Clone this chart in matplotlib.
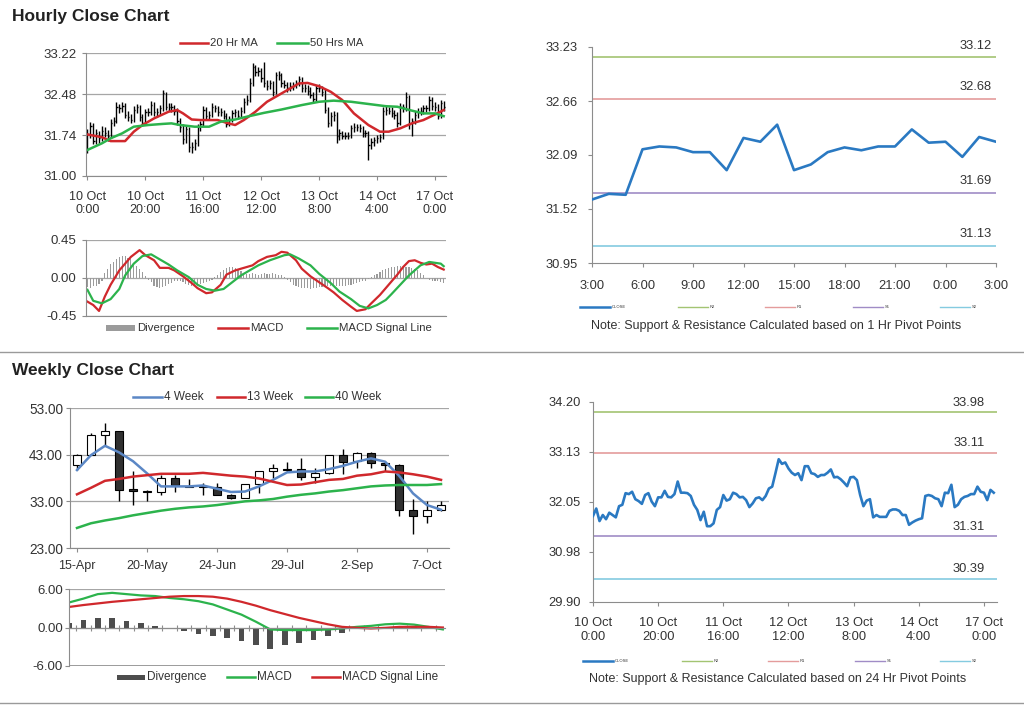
import numpy as np
import matplotlib
matplotlib.use('Agg')
import matplotlib.pyplot as plt
from matplotlib.lines import Line2D
from matplotlib.patches import Rectangle

plt.rcParams['font.family'] = ['Liberation Sans', 'DejaVu Sans']

# ---- hourly bars, 10 Oct 0:00 onwards (124 hours)
hourly_close = [31.75, 31.91, 31.64, 31.77, 31.68, 31.82, 31.77, 31.72, 31.96, 31.99,
                32.24, 32.22, 32.27, 32.11, 32.07, 32.01, 32.20, 32.24, 32.06, 31.96,
                32.15, 32.15, 32.29, 32.16, 32.15, 32.22, 32.49, 32.25, 32.25, 32.24,
                32.18, 31.99, 31.88, 31.66, 31.84, 31.53, 31.53, 31.59, 31.88, 31.94,
                32.20, 32.08, 32.11, 32.25, 32.22, 32.15, 32.16, 32.09, 31.94, 32.02,
                32.13, 32.15, 32.09, 32.18, 32.34, 32.38, 32.67, 32.97, 32.87, 32.90,
                32.77, 32.68, 32.63, 32.67, 32.52, 32.82, 32.82, 32.67, 32.65, 32.59,
                32.63, 32.63, 32.68, 32.75, 32.58, 32.59, 32.54, 32.47, 32.39, 32.58,
                32.59, 32.52, 32.20, 31.96, 32.08, 32.11, 31.72, 31.77, 31.73, 31.73,
                31.73, 31.86, 31.89, 31.89, 31.86, 31.77, 31.77, 31.56, 31.61, 31.65,
                31.68, 31.70, 32.18, 32.20, 32.18, 32.13, 32.11, 31.96, 32.25, 32.24,
                32.42, 31.94, 31.99, 32.11, 32.16, 32.18, 32.22, 32.22, 32.38, 32.27,
                32.25, 32.09, 32.31, 32.25]
hourly_high = [31.85, 31.98, 31.96, 31.84, 31.82, 31.90, 31.88, 31.83, 32.03, 32.06,
               32.33, 32.30, 32.34, 32.31, 32.18, 32.12, 32.27, 32.30, 32.29, 32.12,
               32.21, 32.23, 32.36, 32.33, 32.22, 32.29, 32.56, 32.52, 32.32, 32.31,
               32.28, 32.23, 32.05, 31.93, 31.90, 31.88, 31.62, 31.66, 31.94, 32.00,
               32.27, 32.24, 32.18, 32.31, 32.29, 32.27, 32.22, 32.20, 32.13, 32.08,
               32.19, 32.21, 32.19, 32.25, 32.41, 32.46, 32.76, 33.04, 33.01, 32.96,
               32.95, 33.06, 32.74, 32.73, 32.72, 32.88, 32.89, 32.86, 32.74, 32.70,
               32.69, 32.70, 32.74, 32.81, 32.79, 32.66, 32.64, 32.60, 32.52, 32.64,
               32.66, 32.63, 32.57, 32.25, 32.15, 32.17, 32.15, 31.84, 31.82, 31.80,
               31.79, 31.92, 31.95, 31.94, 31.93, 31.90, 31.83, 31.81, 31.68, 31.71,
               31.74, 31.76, 32.25, 32.27, 32.25, 32.24, 32.19, 32.16, 32.31, 32.30,
               32.52, 32.46, 32.05, 32.18, 32.22, 32.25, 32.28, 32.29, 32.44, 32.42,
               32.33, 32.30, 32.38, 32.36]
hourly_low = [31.42, 31.68, 31.58, 31.58, 31.60, 31.63, 31.70, 31.64, 31.68, 31.90,
              31.95, 32.14, 32.16, 32.04, 31.99, 31.95, 31.97, 32.13, 31.99, 31.90,
              31.92, 32.08, 32.10, 32.09, 32.07, 32.10, 32.18, 32.19, 32.17, 32.16,
              32.10, 31.92, 31.80, 31.58, 31.60, 31.44, 31.42, 31.47, 31.55, 31.82,
              31.90, 32.01, 32.02, 32.06, 32.15, 32.08, 32.09, 32.02, 31.88, 31.90,
              31.98, 32.07, 32.02, 32.04, 32.13, 32.28, 32.33, 32.62, 32.80, 32.81,
              32.70, 32.60, 32.55, 32.57, 32.45, 32.48, 32.74, 32.60, 32.58, 32.52,
              32.54, 32.56, 32.58, 32.63, 32.51, 32.52, 32.47, 32.40, 32.32, 32.35,
              32.51, 32.45, 32.13, 31.88, 31.90, 32.00, 31.60, 31.65, 31.66, 31.67,
              31.66, 31.69, 31.80, 31.82, 31.79, 31.70, 31.70, 31.28, 31.49, 31.55,
              31.59, 31.62, 31.66, 32.11, 32.12, 32.06, 32.03, 31.88, 31.92, 32.16,
              32.18, 31.85, 31.72, 31.93, 32.05, 32.10, 32.12, 32.15, 32.17, 32.20,
              32.18, 32.02, 32.05, 32.18]

ma20_hours = [0, 5, 8, 13, 16, 19, 23, 28, 31, 33, 36, 39, 45, 48, 51, 54, 58,
              62, 68, 73, 76, 80, 84, 88, 92, 97, 101, 104, 108, 112, 116, 120, 123]
ma20 = [31.75, 31.70, 31.63, 31.63, 31.80, 31.92, 32.04, 32.16, 32.19, 32.13, 32.02,
        32.01, 32.01, 31.96, 31.92, 32.01, 32.16, 32.34, 32.52, 32.67, 32.68, 32.62,
        32.52, 32.37, 32.13, 31.92, 31.80, 31.80, 31.86, 31.95, 32.01, 32.11, 32.19]
ma50_hours = [0, 5, 8, 12, 16, 21, 26, 29, 32, 37, 42, 46, 51, 55, 61, 67, 74, 80,
              85, 91, 97, 103, 107, 112, 116, 120, 123]
ma50 = [31.47, 31.59, 31.68, 31.77, 31.89, 31.92, 31.94, 31.95, 31.92, 31.89, 31.89,
        31.98, 32.02, 32.07, 32.14, 32.20, 32.28, 32.34, 32.36, 32.34, 32.30, 32.26,
        32.25, 32.18, 32.13, 32.13, 32.08]

macd_hours = [0, 2, 4, 6, 8, 11, 13, 15, 18, 20, 23, 25, 28, 30, 33, 36, 38, 41, 43,
              46, 48, 51, 54, 57, 59, 62, 65, 67, 69, 72, 74, 77, 80, 83, 85, 88, 91,
              93, 96, 98, 101, 104, 107, 109, 111, 113, 115, 117, 119, 121, 123]
macd_hourly = [-0.28, -0.32, -0.39, -0.22, -0.08, 0.09, 0.17, 0.25, 0.33, 0.27, 0.21,
               0.12, 0.12, 0.09, 0.02, -0.06, -0.12, -0.18, -0.17, -0.08, 0.04, 0.09,
               0.12, 0.15, 0.20, 0.25, 0.27, 0.31, 0.30, 0.21, 0.11, 0.02, -0.05, -0.12,
               -0.17, -0.26, -0.34, -0.39, -0.37, -0.30, -0.20, -0.08, 0.04, 0.13, 0.20,
               0.21, 0.18, 0.16, 0.17, 0.13, 0.10]
signal_hours = [0, 2, 5, 8, 11, 13, 16, 19, 22, 24, 28, 31, 35, 38, 41, 44, 47, 50, 53,
                56, 59, 63, 68, 70, 73, 77, 80, 84, 87, 91, 94, 97, 100, 103, 105, 108,
                111, 115, 118, 120, 122, 123]
signal_hourly = [-0.14, -0.27, -0.30, -0.25, -0.13, 0.03, 0.17, 0.26, 0.28, 0.24, 0.16,
                 0.09, 0.01, -0.08, -0.13, -0.15, -0.13, -0.05, 0.03, 0.09, 0.15, 0.21,
                 0.27, 0.28, 0.23, 0.15, 0.05, -0.06, -0.16, -0.25, -0.33, -0.36, -0.32,
                 -0.26, -0.19, -0.08, 0.03, 0.15, 0.19, 0.18, 0.17, 0.14]
div_hourly = [-0.11, -0.12, -0.10, -0.09, -0.07, -0.03, 0.06, 0.11, 0.16, 0.19,
              0.23, 0.25, 0.26, 0.26, 0.24, 0.22, 0.17, 0.14, 0.11, 0.07,
              0.02, -0.02, -0.05, -0.09, -0.11, -0.12, -0.11, -0.09, -0.07, -0.06,
              -0.04, -0.03, -0.04, -0.05, -0.07, -0.08, -0.09, -0.09, -0.08, -0.07,
              -0.06, -0.05, -0.03, -0.02, 0.01, 0.04, 0.07, 0.10, 0.12, 0.13,
              0.13, 0.12, 0.10, 0.08, 0.06, 0.05, 0.05, 0.06, 0.05, 0.04,
              0.05, 0.06, 0.05, 0.05, 0.06, 0.05, 0.04, 0.03, 0.01, -0.02,
              -0.05, -0.08, -0.10, -0.11, -0.12, -0.12, -0.12, -0.13, -0.12, -0.12,
              -0.11, -0.11, -0.10, -0.10, -0.09, -0.09, -0.10, -0.09, -0.09, -0.09,
              -0.08, -0.08, -0.07, -0.06, -0.05, -0.04, -0.03, -0.01, 0.01, 0.03,
              0.05, 0.07, 0.09, 0.11, 0.12, 0.13, 0.13, 0.14, 0.14, 0.14,
              0.13, 0.13, 0.12, 0.11, 0.09, 0.06, 0.03, 0.00, -0.02, -0.03,
              -0.03, -0.04, -0.05, -0.06]
hour_labels = ['10 Oct\n0:00', '10 Oct\n20:00', '11 Oct\n16:00', '12 Oct\n12:00',
               '13 Oct\n8:00', '14 Oct\n4:00', '17 Oct\n0:00']

# ---- 1 hr pivot chart (3:00 -> 3:00)
pivot1_close = [31.62, 31.68, 31.67, 32.15, 32.18, 32.17, 32.12, 32.12, 31.93, 32.27,
                32.23, 32.41, 31.93, 31.99, 32.12, 32.17, 32.14, 32.18, 32.18, 32.36,
                32.22, 32.23, 32.07, 32.28, 32.23]
pivot1_labels = ['3:00', '6:00', '9:00', '12:00', '15:00', '18:00', '21:00', '0:00', '3:00']
pivot1_levels = [33.12, 32.68, 31.69, 31.13]
pivot1_yticks = [30.95, 31.52, 32.09, 32.66, 33.23]

# ---- 24 hr pivot chart
pivot24_levels = [33.98, 33.11, 31.31, 30.39]
pivot24_yticks = [29.90, 30.98, 32.05, 33.13, 34.20]
level_names = ['R2', 'R1', 'S1', 'S2']

# ---- weekly candles, 15-Apr onwards
week_labels = ['15-Apr', '20-May', '24-Jun', '29-Jul', '2-Sep', '7-Oct']
w_open = [40.8, 43.0, 47.2, 48.0, 35.6, 35.3, 35.1, 38.1, 36.2, 36.2, 36.0, 34.4, 33.8,
          36.7, 39.4, 40.0, 39.9, 38.3, 39.0, 42.9, 41.6, 43.3, 41.3, 40.8, 31.2, 29.8, 31.2]
w_close = [43.0, 47.2, 48.0, 35.4, 35.3, 35.1, 38.1, 36.5, 36.1, 36.0, 34.4, 33.8, 36.7,
           39.4, 40.1, 39.8, 38.3, 39.0, 42.9, 41.5, 43.3, 41.3, 40.8, 31.2, 29.8, 31.2, 32.2]
w_high = [43.1, 47.7, 49.8, 48.0, 39.5, 35.4, 38.6, 38.6, 37.8, 37.0, 36.9, 34.6, 36.8,
          39.5, 41.1, 41.5, 42.3, 40.2, 43.0, 44.2, 43.5, 43.5, 41.6, 40.9, 33.5, 33.0, 33.0]
w_low = [39.8, 42.9, 45.0, 33.0, 32.2, 33.0, 34.4, 35.1, 36.0, 34.4, 34.3, 33.6, 33.7,
         34.7, 38.1, 39.3, 37.6, 36.9, 38.9, 38.8, 40.2, 40.2, 39.4, 29.8, 25.9, 28.3, 31.0]
wk4 = [39.7, 42.9, 44.9, 43.5, 41.6, 39.0, 36.2, 36.2, 36.2, 36.4, 35.7, 35.0, 35.1,
       36.2, 37.6, 39.2, 39.4, 39.4, 39.9, 40.6, 41.5, 42.2, 41.5, 38.5, 34.7, 32.2, 31.2]
wk13 = [34.5, 35.9, 37.4, 37.8, 38.3, 38.6, 38.9, 38.9, 38.9, 39.1, 38.8, 38.5, 38.3,
        37.9, 37.2, 36.5, 36.6, 37.1, 37.6, 37.8, 38.5, 38.8, 39.4, 39.2, 38.8, 38.3, 37.6]
wk40 = [27.3, 28.3, 28.9, 29.4, 30.0, 30.5, 31.0, 31.4, 31.7, 31.9, 32.2, 32.6, 33.0,
        33.2, 33.5, 34.0, 34.4, 34.7, 35.1, 35.4, 35.8, 36.2, 36.4, 36.5, 36.5, 36.5, 36.7]
w_div = [0.73, 1.15, 1.5, 1.5, 1.0, 0.7, 0.2, -0.15, -0.55, -0.95, -1.3, -1.7, -2.15,
         -2.75, -3.3, -2.75, -2.4, -2.0, -1.3, -0.8, -0.15, 0.0, 0.1, 0.2, 0.1, -0.05, -0.15]
w_macd = [3.9, 4.5, 5.2, 5.4, 5.2, 5.0, 4.9, 4.6, 4.4, 4.1, 3.6, 2.8, 2.0, 0.9, -0.3,
          -0.4, -0.4, -0.4, -0.3, -0.15, 0.1, 0.25, 0.5, 0.6, 0.45, 0.1, -0.3]
w_signal = [3.2, 3.5, 3.75, 4.0, 4.2, 4.4, 4.6, 4.8, 4.9, 4.9, 4.8, 4.5, 4.0, 3.4, 2.7,
            2.1, 1.5, 1.0, 0.5, 0.1, -0.05, -0.15, -0.05, 0.1, 0.1, 0.1, 0.0]

RED = '#d0282c'
GREEN = '#2cb34c'
BLUE = '#2a79c2'
WBLUE = '#5b87c5'
LEVEL_COLORS = ['#a3c472', '#e49c9c', '#a08cc6', '#84cbe0']
TXT = '#333333'
AXC = '#8c8c8c'
GRID = '#a6a6a6'

W, H = 1024, 706
fig = plt.figure(figsize=(W / 100, H / 100), dpi=100)


def add_ax(l, t, r, b):
    return fig.add_axes([l / W, 1 - b / H, (r - l) / W, (b - t) / H])


def style(ax, ypad, xpad=5, grid=True, size=9):
    ax.spines['top'].set_visible(False)
    ax.spines['right'].set_visible(False)
    ax.spines['left'].set_color(AXC)
    ax.spines['bottom'].set_color(AXC)
    ax.tick_params(colors=AXC, labelcolor=TXT, labelsize=size, length=3, width=0.8)
    ax.tick_params(axis='y', pad=ypad)
    ax.tick_params(axis='x', pad=xpad)
    if grid:
        ax.yaxis.grid(True, color=GRID, lw=0.9)
        ax.set_axisbelow(True)


def key_line(x0, y, text, color, lw=1.8, size=8.2, length=30):
    fig.add_artist(Line2D([x0 / W, (x0 + length) / W], [1 - y / H] * 2, color=color, lw=lw))
    fig.text((x0 + length + 2) / W, 1 - y / H, text, fontsize=size, color=TXT,
             va='center', ha='left')


def key_box(x0, y, text, color, size=8.2, length=30, h=6):
    fig.add_artist(Rectangle((x0 / W, 1 - (y + h / 2) / H), length / W, h / H,
                             color=color, lw=0))
    fig.text((x0 + length + 2) / W, 1 - y / H, text, fontsize=size, color=TXT,
             va='center', ha='left')


def level_lines(ax, levels, dx, dy):
    for lv, c in zip(levels, LEVEL_COLORS):
        ax.axhline(lv, color=c, lw=1.2)
        ax.annotate('%.2f' % lv, xy=(1, lv), xycoords=('axes fraction', 'data'),
                    xytext=(dx, dy), textcoords='offset points', ha='right',
                    va='center', fontsize=9.3, color=TXT)


# titles and separators
fig.text(12 / W, 1 - 16.5 / H, 'Hourly Close Chart', fontsize=12.5, fontweight='bold',
         va='center', color='#222222')
fig.text(12 / W, 1 - 370 / H, 'Weekly Close Chart', fontsize=12.5, fontweight='bold',
         va='center', color='#222222')
fig.add_artist(Line2D([0, 1], [1 - 352 / H] * 2, color='#9a9a9a', lw=1))
fig.add_artist(Line2D([0, 1], [1 - 703 / H] * 2, color='#9a9a9a', lw=1))

hrs = np.arange(len(hourly_close))

# hourly bars + moving averages
ax1 = add_ax(86, 53, 446, 176)
ax1.vlines(hrs, hourly_low, hourly_high, color='black', lw=1.0)
ax1.hlines(hourly_close, hrs, hrs + 0.45, color='black', lw=1.0)
ax1.plot(ma20_hours, ma20, color=RED, lw=1.8)
ax1.plot(ma50_hours, ma50, color=GREEN, lw=1.8)
ax1.set_xlim(-0.5, 123.8)
ax1.set_ylim(31.00, 33.22)
ax1.set_yticks([31.00, 31.74, 32.48, 33.22])
ax1.set_yticklabels(['31.00', '31.74', '32.48', '33.22'])
ax1.set_xticks(range(0, 121, 20))
ax1.set_xticklabels(hour_labels, linespacing=1.2)
style(ax1, ypad=4, xpad=7.5)
ax1.tick_params(axis='y', labelsize=9.5)
key_line(180, 43, '20 Hr MA', RED, length=28)
key_line(277, 43, '50 Hrs MA', GREEN, length=31)

# hourly MACD
ax2 = add_ax(86, 240, 446, 316)
ax2.bar(hrs, div_hourly, width=0.4, color='#9b9b9b')
ax2.plot(macd_hours, macd_hourly, color=RED, lw=1.6)
ax2.plot(signal_hours, signal_hourly, color=GREEN, lw=1.6)
ax2.set_xlim(-0.5, 123.8)
ax2.set_ylim(-0.45, 0.45)
ax2.set_yticks([-0.45, 0, 0.45])
ax2.set_yticklabels(['-0.45', '0.00', '0.45'])
ax2.set_xticks([])
style(ax2, ypad=4, size=9.5)
key_box(106, 328, 'Divergence', '#9b9b9b', length=29)
key_line(218, 328, 'MACD', RED)
key_line(307, 328, 'MACD Signal Line', GREEN)

# 1 hr pivot
ax3 = add_ax(592, 47, 996, 263)
ax3.plot(range(len(pivot1_close)), pivot1_close, color=BLUE, lw=1.9, zorder=3)
level_lines(ax3, pivot1_levels, -3, 8.5)
ax3.set_xlim(0, 24)
ax3.set_ylim(30.95, 33.23)
ax3.set_yticks(pivot1_yticks)
ax3.set_yticklabels(['%.2f' % v for v in pivot1_yticks])
ax3.set_xticks(range(0, 25, 3))
ax3.set_xticklabels(pivot1_labels)
style(ax3, ypad=7, xpad=9, grid=False, size=9.3)
for x0, name, c, lw in zip([580, 678, 765, 853, 940], ['CLOSE'] + level_names,
                           [BLUE] + LEVEL_COLORS, [1.8, 1, 1, 1, 1]):
    key_line(x0, 307, name, c, lw=lw, size=3, length=30)
fig.text(776 / W, 1 - 326 / H, 'Note: Support & Resistance Calculated based on 1 Hr Pivot Points',
         ha='center', va='center', fontsize=9, color=TXT)

# weekly candles
ax4 = add_ax(70, 408, 449, 548)
wx = np.arange(len(w_close))
ax4.vlines(wx, w_low, w_high, color='black', lw=1, zorder=2)
body_col = ['white' if c >= o else '#303030' for o, c in zip(w_open, w_close)]
ax4.bar(wx, np.array(w_close) - np.array(w_open), bottom=w_open, width=0.55,
        color=body_col, edgecolor='black', lw=0.8, zorder=3)
ax4.plot(wx, wk4, color=WBLUE, lw=1.8, zorder=4)
ax4.plot(wx, wk13, color=RED, lw=1.8, zorder=4)
ax4.plot(wx, wk40, color=GREEN, lw=1.8, zorder=4)
ax4.set_xlim(-0.5, 26.57)
ax4.set_ylim(23, 53)
ax4.set_yticks([23, 33, 43, 53])
ax4.set_yticklabels(['23.00', '33.00', '43.00', '53.00'])
ax4.set_xticks(range(0, 26, 5))
ax4.set_xticklabels(week_labels)
style(ax4, ypad=2, xpad=5.5)
ax4.tick_params(axis='y', labelsize=9.8)
key_line(133, 397, '4 Week', WBLUE, length=29, size=8.5)
key_line(217, 397, '13 Week', RED, length=28, size=8.5)
key_line(305, 397, '40 Week', GREEN, length=28, size=8.5)

# weekly MACD: category axis sits on the zero line, frame line at the bottom
ax5 = add_ax(69, 589, 445, 666)
ax5.bar(wx, w_div, width=0.4, color='#4d4d4d')
ax5.plot(wx, w_macd, color=GREEN, lw=1.6)
ax5.plot(wx, w_signal, color=RED, lw=1.6)
ax5.set_xlim(0, 26.15)
ax5.set_ylim(-6, 6)
ax5.set_yticks([-6, 0, 6])
ax5.set_yticklabels(['-6.00', '0.00', '6.00'])
style(ax5, ypad=1.5, size=9.5)
ax5.spines['bottom'].set_position(('data', 0))
ax5.set_xticks(wx[:-1] + 0.5)
ax5.set_xticklabels([])
ax5.tick_params(axis='x', direction='inout', length=4)
ax5.axhline(-6, color=AXC, lw=1.2)
key_box(117, 677, 'Divergence', '#4d4d4d', length=28, h=5, size=8.5)
key_line(227, 677, 'MACD', GREEN, length=28, size=8.5)
key_line(312, 677, 'MACD Signal Line', RED, length=28, size=8.5)

# 24 hr pivot
ax6 = add_ax(593, 402, 997, 602)
ax6.plot(hrs, hourly_close, color=BLUE, lw=1.9, zorder=3)
level_lines(ax6, pivot24_levels, -9, 7)
ax6.set_xlim(0, 124)
ax6.set_ylim(29.90, 34.20)
ax6.set_yticks(pivot24_yticks)
ax6.set_yticklabels(['%.2f' % v for v in pivot24_yticks])
ax6.set_xticks(range(0, 121, 20))
ax6.set_xticklabels(hour_labels, linespacing=1.2)
style(ax6, ypad=6, xpad=8, grid=False, size=9.3)
for x0, name, c, lw in zip([583, 682, 768, 855, 940], ['CLOSE'] + level_names,
                           [BLUE] + LEVEL_COLORS, [1.8, 1, 1, 1, 1]):
    key_line(x0, 661, name, c, lw=lw, size=3, length=30)
fig.text(778 / W, 1 - 679 / H, 'Note: Support & Resistance Calculated based on 24 Hr Pivot Points',
         ha='center', va='center', fontsize=9, color=TXT)

fig.savefig('out.png', dpi=100, facecolor='white')
